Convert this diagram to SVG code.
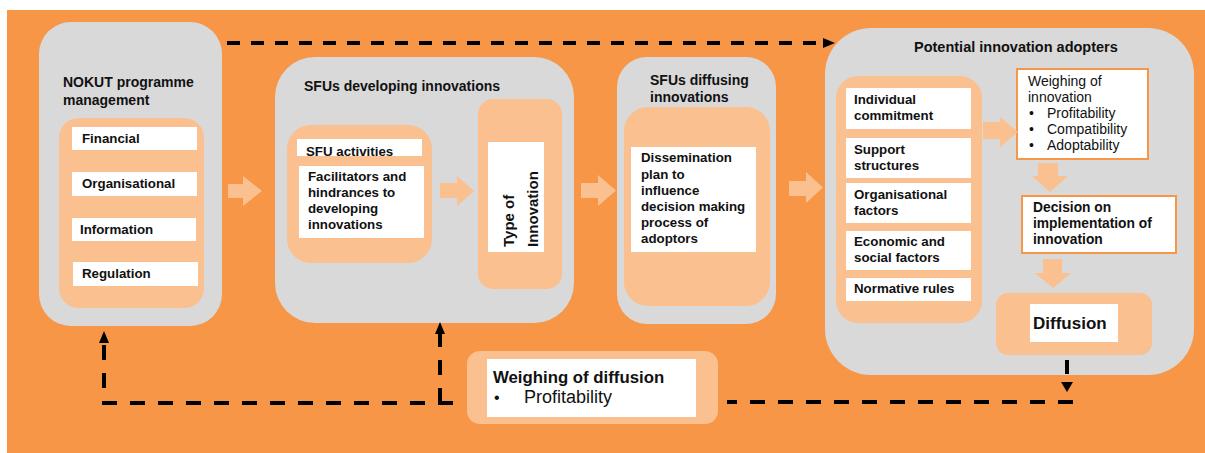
<svg xmlns="http://www.w3.org/2000/svg" width="1205" height="453" viewBox="0 0 1205 453">
<style>
.grey{fill:#D9D9D9}
.lo{fill:#FAC090}
.wb{fill:#FFFFFF}
.wbo{fill:#FFFFFF;stroke:#F79646;stroke-width:2}
text{font-family:"Liberation Sans",Arial,sans-serif;fill:#111}
.h{font-size:14px;font-weight:bold}
.t{font-size:13.3px;font-weight:bold}
.n{font-size:14px}
.dash{fill:none;stroke:#000;stroke-width:4}
.d1{stroke-dasharray:13 11}
.d2{stroke-dasharray:15 13}
.ba{fill:#FAC090}
</style>
<defs>
<marker id="ah" viewBox="0 0 12 10" refX="0" refY="5" markerWidth="12" markerHeight="10" orient="auto" markerUnits="userSpaceOnUse">
<path d="M0,0 L12,5 L0,10 z" fill="#000"/>
</marker>
</defs>
<rect x="7" y="10" width="1198" height="443" fill="#F79646"/>

<g id="nokut">
<rect class="grey" x="39" y="22" width="183" height="304" rx="32"/>
<text class="h" x="63" y="87">NOKUT programme</text>
<text class="h" x="63" y="105">management</text>
<rect class="lo" x="59" y="118" width="145" height="190" rx="20"/>
<rect class="wb" x="72" y="127" width="125" height="23"/>
<text class="t" x="82" y="143">Financial</text>
<rect class="wb" x="72" y="172" width="125" height="24"/>
<text class="t" x="82" y="188">Organisational</text>
<rect class="wb" x="72" y="218" width="124" height="23"/>
<text class="t" x="80" y="234">Information</text>
<rect class="wb" x="73" y="262" width="125" height="24"/>
<text class="t" x="82" y="278">Regulation</text>
</g>

<g id="sfu-dev">
<rect class="grey" x="275" y="57" width="299" height="266" rx="40"/>
<text class="h" x="304" y="91">SFUs developing innovations</text>
<rect class="lo" x="287" y="125" width="145" height="138" rx="24"/>
<rect class="wb" x="297" y="139" width="125" height="17"/>
<text class="t" x="306" y="156">SFU activities</text>
<rect class="wb" x="299" y="166" width="125" height="72"/>
<text class="t" x="308" y="181">Facilitators and</text>
<text class="t" x="308" y="197">hindrances to</text>
<text class="t" x="308" y="213">developing</text>
<text class="t" x="308" y="229">innovations</text>
</g>

<g id="type-innovation">
<rect class="lo" x="478" y="99" width="84" height="190" rx="15"/>
<rect class="wb" x="488" y="142" width="56" height="110"/>
<text class="h" style="font-size:15px" transform="translate(514,247) rotate(-90)">Type of</text>
<text class="h" style="font-size:15px" transform="translate(538,247) rotate(-90)">Innovation</text>
</g>

<g id="sfu-diff">
<rect class="grey" x="617" y="57" width="159" height="267" rx="30"/>
<text class="h" x="650" y="85">SFUs diffusing</text>
<text class="h" x="650" y="102">innovations</text>
<rect class="lo" x="624" y="107" width="146" height="199" rx="24"/>
<rect class="wb" x="631" y="147" width="125" height="105"/>
<text class="t" x="641" y="162">Dissemination</text>
<text class="t" x="641" y="179">plan to</text>
<text class="t" x="641" y="195">influence</text>
<text class="t" x="641" y="211">decision making</text>
<text class="t" x="641" y="227">process of</text>
<text class="t" x="641" y="243">adoptors</text>
</g>

<g id="adopters">
<rect class="grey" x="825" y="28" width="369" height="347" rx="46"/>
<text class="h" x="914" y="52" style="font-size:14.5px">Potential innovation adopters</text>
<rect class="lo" x="836" y="76" width="146" height="247" rx="22"/>
<rect class="wb" x="846" y="88" width="125" height="41"/>
<text class="t" x="854" y="104">Individual</text>
<text class="t" x="854" y="120">commitment</text>
<rect class="wb" x="846" y="138" width="125" height="40"/>
<text class="t" x="854" y="154">Support</text>
<text class="t" x="854" y="170">structures</text>
<rect class="wb" x="846" y="183" width="125" height="40"/>
<text class="t" x="854" y="199">Organisational</text>
<text class="t" x="854" y="215">factors</text>
<rect class="wb" x="846" y="231" width="125" height="39"/>
<text class="t" x="854" y="246">Economic and</text>
<text class="t" x="854" y="262">social factors</text>
<rect class="wb" x="846" y="278" width="125" height="23"/>
<text class="t" x="854" y="293">Normative rules</text>
</g>

<g id="weighing-innovation">
<rect class="wbo" x="1017" y="69" width="131" height="90"/>
<text class="n" x="1028" y="86">Weighing of</text>
<text class="n" x="1028" y="102">innovation</text>
<text class="n" x="1029" y="118">•</text>
<text class="n" x="1047" y="118">Profitability</text>
<text class="n" x="1029" y="134">•</text>
<text class="n" x="1047" y="134">Compatibility</text>
<text class="n" x="1029" y="150">•</text>
<text class="n" x="1047" y="150">Adoptability</text>
</g>

<g id="decision">
<rect class="wbo" x="1022" y="196" width="154" height="57"/>
<text class="t" x="1033" y="212" style="font-size:13.8px">Decision on</text>
<text class="t" x="1033" y="228" style="font-size:13.8px">implementation of</text>
<text class="t" x="1033" y="244" style="font-size:13.8px">innovation</text>
</g>

<g id="diffusion">
<rect class="lo" x="996" y="293" width="156" height="62" rx="12"/>
<rect class="wb" x="1030" y="304" width="88" height="38"/>
<text class="h" x="1033" y="329" style="font-size:17px">Diffusion</text>
</g>

<g id="weighing-diffusion">
<rect class="lo" x="467" y="351" width="251" height="73" rx="13"/>
<rect class="wb" x="487" y="359" width="209" height="58"/>
<text class="h" x="493" y="383" style="font-size:16.8px">Weighing of diffusion</text>
<text class="n" x="494" y="403" style="font-size:16px">•</text>
<text class="n" x="524" y="403" style="font-size:18px">Profitability</text>
</g>

<g id="connectors">
<path class="ba" d="M228,184 H243 V176 L262,191 L243,206 V198 H228 z"/>
<path class="ba" d="M440,183 H457 V176 L474,191 L457,206 V198 H440 z"/>
<path class="ba" d="M581,183 H598 V175 L616,190.5 L598,206 V198 H581 z"/>
<path class="ba" d="M789,181 H806 V172 L823,187.5 L806,203 V196 H789 z"/>
<path class="ba" d="M983,122 H1000 V117 L1018,132 L1000,147 V139 H983 z"/>
<path class="ba" d="M1038,163 H1058 V176 H1068 L1050,192 L1032,176 H1038 z"/>
<path class="ba" d="M1043,259 H1062 V273 H1071 L1053,288 L1035,273 H1043 z"/>
<path class="dash d1" d="M227,43 H823" marker-end="url(#ah)"/>
<path class="dash d2" d="M453,403 H104 V343" marker-end="url(#ah)"/>
<path class="dash d2" d="M440,403 V334" marker-end="url(#ah)"/>
<path class="dash d2" d="M1073,402 H727"/>
<path class="dash" d="M1067,360 V374"/>
<path d="M1061,382 L1073,382 L1067,392 z" fill="#000"/>
</g>
</svg>
